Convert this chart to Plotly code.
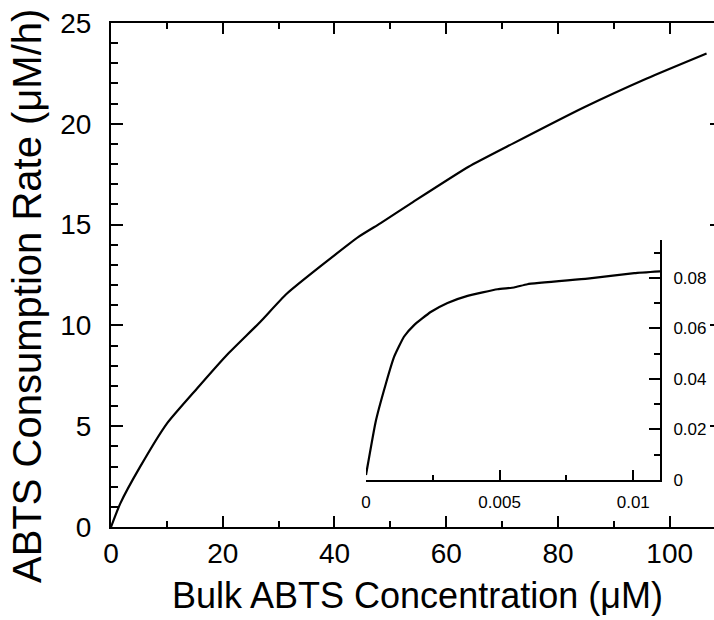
import plotly.graph_objects as go

# Main curve: bulk ABTS concentration (uM) vs consumption rate (uM/h)
main_conc = [0, 1.65, 5.2, 10.0, 15.4, 20.7, 26.7, 31.5, 44.3, 48.2, 54.1, 64.0, 72.0, 84.6, 95.9, 106.6]
main_rate = [0, 1.16, 2.98, 5.13, 6.87, 8.52, 10.17, 11.58, 14.39, 15.06, 16.13, 17.87, 19.03, 20.81, 22.25, 23.49]

# Inset curve: low-concentration detail
inset_conc = [0.0, 0.00036, 0.00074, 0.00105, 0.00142, 0.0018, 0.00242, 0.00305, 0.0038,
              0.00492, 0.00554, 0.00604, 0.00829, 0.01004, 0.01101]
inset_rate = [0.002, 0.023, 0.038, 0.0487, 0.0567, 0.0613, 0.0665, 0.0701, 0.0729,
              0.0755, 0.0762, 0.0775, 0.0797, 0.0819, 0.0826]

inset_xticks = [0, 0.005, 0.01]
inset_xlabels = ["0", "0.005", "0.01"]
inset_yticks = [0, 0.02, 0.04, 0.06, 0.08]
inset_ylabels = ["0", "0.02", "0.04", "0.06", "0.08"]

x_title = "Bulk ABTS Concentration (μM)"
y_title = "ABTS Consumption Rate (μM/h)"

FONT = "Liberation Sans, Arial, sans-serif"
W, H = 714, 620
ML, MR, MT, MB = 111, 0, 23, 93
PW, PH = W - ML - MR, H - MT - MB

def px_x(px):
    return (px - ML) / PW

def px_y(py):
    return (H - MB - py) / PH

TC = "black"

fig = go.Figure()
fig.add_trace(go.Scatter(x=main_conc, y=main_rate, mode="lines",
                         line=dict(color="black", width=2.2, shape="spline", smoothing=0.5),
                         xaxis="x", yaxis="y", showlegend=False, hoverinfo="skip"))
# carrier for the right-hand tick axis (invisible)
fig.add_trace(go.Scatter(x=main_conc, y=main_rate, mode="lines", opacity=0,
                         line=dict(color="black", width=0.1),
                         xaxis="x", yaxis="y3", showlegend=False, hoverinfo="skip"))
fig.add_trace(go.Scatter(x=inset_conc, y=inset_rate, mode="lines",
                         line=dict(color="black", width=2.2, shape="spline", smoothing=0.4),
                         xaxis="x2", yaxis="y2", showlegend=False, hoverinfo="skip"))

ix0, ix1 = px_x(366), px_x(660)
iy0, iy1 = px_y(480), px_y(240)

fig.update_layout(
    width=W, height=H,
    margin=dict(l=ML, r=MR, t=MT, b=MB, pad=0),
    paper_bgcolor="white", plot_bgcolor="white",
    font=dict(family=FONT, color="black"),
    xaxis=dict(domain=[0, 1], range=[0, PW / 5.587], showgrid=False, zeroline=False,
               showline=True, linecolor="black", linewidth=2, mirror="ticks",
               ticks="inside", ticklen=11, tickwidth=1.5, tickcolor=TC,
               tickmode="linear", tick0=0, dtick=20,
               minor=dict(ticks="inside", ticklen=6, tickwidth=1.5, tickcolor=TC, dtick=10, showgrid=False),
               tickfont=dict(size=28, family=FONT)),
    yaxis=dict(domain=[0, 1], range=[0, 25], showgrid=False, zeroline=False,
               showline=True, linecolor="black", linewidth=2, mirror=False,
               ticks="inside", ticklen=12, tickwidth=1.5, tickcolor=TC,
               tickmode="linear", tick0=0, dtick=5,
               minor=dict(ticks="inside", ticklen=7, tickwidth=1.5, tickcolor=TC, dtick=1, showgrid=False),
               tickfont=dict(size=28, family=FONT), ticklabelstandoff=12),
    yaxis3=dict(range=[0, 25], overlaying="y", side="right", anchor="x", showline=False,
                showgrid=False, zeroline=False, showticklabels=False,
                ticks="inside", ticklen=4, tickwidth=1.5, tickcolor=TC,
                tickmode="linear", tick0=0, dtick=5),
    xaxis2=dict(domain=[ix0, ix1], range=[0, 0.011], anchor="y2", showgrid=False, zeroline=False,
                showline=True, linecolor="black", linewidth=2,
                ticks="inside", ticklen=10, tickwidth=1.5, tickcolor=TC,
                tickmode="array", tickvals=inset_xticks, ticktext=inset_xlabels,
                minor=dict(ticks="inside", ticklen=5, tickwidth=1.5, tickcolor=TC,
                           tickmode="array", tickvals=[0.0025, 0.0075], showgrid=False),
                tickfont=dict(size=17, family=FONT), ticklabelstandoff=6),
    yaxis2=dict(domain=[iy0, iy1], range=[0, 0.095], anchor="x2", side="right",
                showgrid=False, zeroline=False,
                showline=True, linecolor="black", linewidth=2,
                ticks="inside", ticklen=11, tickwidth=1.5, tickcolor=TC,
                tickmode="array", tickvals=inset_yticks, ticktext=inset_ylabels,
                minor=dict(ticks="inside", ticklen=6, tickwidth=1.5, tickcolor=TC,
                           tickmode="array", tickvals=[0.01, 0.03, 0.05, 0.07, 0.09], showgrid=False),
                tickfont=dict(size=17, family=FONT), ticklabelstandoff=8),
    annotations=[
        dict(text=x_title, xref="paper", yref="paper", x=px_x(417), y=px_y(595),
             xanchor="center", yanchor="middle", showarrow=False,
             font=dict(size=36, family=FONT, color="black")),
        dict(text=y_title, xref="paper", yref="paper", x=px_x(27), y=px_y(296),
             xanchor="center", yanchor="middle", showarrow=False, textangle=-90,
             font=dict(size=40, family=FONT, color="black")),
    ],
)

fig.write_html("out.html")
